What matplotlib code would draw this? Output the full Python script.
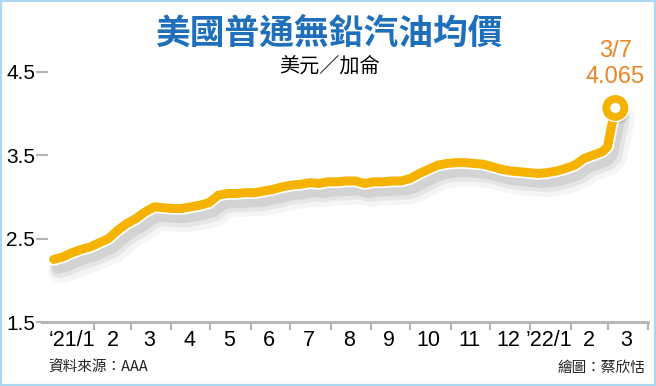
import matplotlib.pyplot as plt
import matplotlib.patheffects as pe
from matplotlib.patches import Rectangle
import pandas as pd

# weekly AAA regular gasoline average, USD / gallon
weekly_dates = pd.date_range('2021-01-01', '2022-02-25', freq='7D')
march_dates = pd.to_datetime(['2022-03-01', '2022-03-04', '2022-03-07'])
dates = weekly_dates.append(march_dates)
prices = [2.25, 2.28, 2.33, 2.37, 2.40, 2.45, 2.50, 2.60, 2.68, 2.74,
          2.82, 2.88, 2.87, 2.86, 2.86, 2.88, 2.90, 2.93, 3.02, 3.04,
          3.04, 3.05, 3.05, 3.07, 3.09, 3.12, 3.14, 3.15, 3.17, 3.16,
          3.18, 3.18, 3.19, 3.19, 3.16, 3.18, 3.18, 3.19, 3.19, 3.22,
          3.28, 3.33, 3.38, 3.40, 3.41, 3.41, 3.40, 3.39, 3.36, 3.33,
          3.31, 3.30, 3.29, 3.28, 3.29, 3.31, 3.34, 3.38, 3.46, 3.50,
          3.54, 3.60, 3.84, 4.065]

month_labels = ['\u201821/1', '2', '3', '4', '5', '6', '7', '8', '9', '10',
                '11', '12', '\u201922/1', '2', '3']
y_ticks = [1.5, 2.5, 3.5, 4.5]

yellow = '#f5b300'
orange = '#ec8526'
grey = '#b3b3b3'
num_font = ['Liberation Sans Narrow', 'Liberation Sans', 'DejaVu Sans']
cjk_font = ['Noto Sans CJK TC', 'DejaVu Sans']

fig = plt.figure(figsize=(6.56, 3.86), dpi=100)
ax = fig.add_axes([42 / 656, 64 / 386, 606 / 656, 267 / 386])

# soft drop shadow, white outline, then the line itself
shadow = [pe.SimpleLineShadow(offset=(5, -8), shadow_color='#000000', alpha=0.04, linewidth=18),
          pe.SimpleLineShadow(offset=(4, -7), shadow_color='#000000', alpha=0.06, linewidth=13),
          pe.SimpleLineShadow(offset=(3, -6), shadow_color='#000000', alpha=0.08, linewidth=9),
          pe.Stroke(linewidth=9, foreground='white'),
          pe.Normal()]
ax.plot(dates, prices, color=yellow, lw=6.5, solid_capstyle='round',
        solid_joinstyle='round', path_effects=shadow, zorder=3)

# end point marker
ax.plot([dates[-1]], [prices[-1]], 'o', ms=13, mfc='white', mec=yellow, mew=5.6,
        zorder=4, path_effects=[pe.SimplePatchShadow(offset=(3, -5), alpha=0.12),
                                pe.Stroke(linewidth=7.5, foreground='white'),
                                pe.Normal()])
last = dates[-1]
ax.annotate(f'{prices[-1]:.3f}', xy=(last, prices[-1]), xytext=(0, 22),
            textcoords='offset points', ha='center', va='center',
            color=orange, fontsize=17, family=num_font)
ax.annotate(f'{last.month}/{last.day}', xy=(last, prices[-1]), xytext=(0, 41),
            textcoords='offset points', ha='center', va='center',
            color=orange, fontsize=17, family=num_font)

ax.set_xlim(pd.Timestamp('2020-12-23'), pd.Timestamp('2022-04-01'))
ax.set_ylim(1.5, 4.7)

# month boundaries as ticks, labels centred in each month
month_starts = pd.date_range('2021-02-01', '2022-04-01', freq='MS')
month_mids = pd.date_range('2021-01-01', '2022-03-01', freq='MS') + pd.Timedelta(days=14)
ax.set_xticks(month_starts)
ax.set_xticklabels([])
ax.set_xticks(month_mids, minor=True)
ax.set_xticklabels(month_labels, minor=True, family=num_font, fontsize=15.5)
ax.tick_params(axis='x', which='major', length=6, width=1.5, color=grey)
ax.tick_params(axis='x', which='minor', length=0, pad=6)

ax.set_yticks(y_ticks)
ax.set_yticklabels([str(v) for v in y_ticks], family=num_font, fontsize=15)
ax.tick_params(axis='y', direction='inout', length=8, width=1.5, color=grey, pad=1)

for s in ['top', 'right', 'left']:
    ax.spines[s].set_visible(False)
ax.spines['bottom'].set_color(grey)
ax.spines['bottom'].set_linewidth(2)

fig.text(0.503, 0.915, '美國普通無鉛汽油均價', fontsize=25, color='#1f6fba',
         fontweight='bold', family=cjk_font, ha='center', va='center')
fig.text(0.503, 0.829, '美元／加侖', fontsize=14.5, family=cjk_font,
         ha='center', va='center')
fig.text(48 / 656, 0.047, '資料來源：AAA', fontsize=10.5, family=cjk_font,
         color='#222222', ha='left', va='center')
fig.text(645 / 656, 0.047, '繪圖：蔡欣恬', fontsize=10.5, family=cjk_font,
         color='#222222', ha='right', va='center')

fig.patches.append(Rectangle((0, 0), 1, 1, transform=fig.transFigure, fill=False,
                             edgecolor='#a9d8f0', lw=3))

fig.savefig('out.png', dpi=100)
